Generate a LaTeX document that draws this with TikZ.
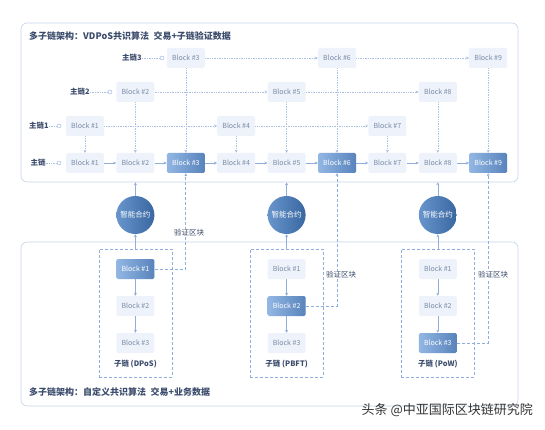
\documentclass[tikz,border=0pt]{standalone}
\usepackage{fontspec}
\setmainfont{Noto Sans CJK SC}
\usetikzlibrary{arrows.meta}

\definecolor{framecol}{HTML}{C3D2EC}
\definecolor{linecol}{HTML}{8FAEDB}
\definecolor{blockfill}{HTML}{EEF3FB}
\definecolor{blocktext}{HTML}{7A8AA6}
\definecolor{hilight}{HTML}{93B7E4}
\definecolor{hidark}{HTML}{5883BB}
\definecolor{ballight}{HTML}{6795CC}
\definecolor{baldark}{HTML}{3A67A0}
\definecolor{titlecol}{HTML}{3C4C6C}

\tikzset{
    frame/.style={draw=framecol, line width=0.6pt, rounded corners=6pt, inner sep=0pt},
    block/.style={fill=blockfill, text=blocktext, minimum width=38pt, minimum height=20pt,
                  inner sep=0pt, rounded corners=1.5pt},
    hiblock/.style={block, left color=hilight, right color=hidark, text=white},
    contract/.style={circle, minimum size=38pt, inner sep=0pt, left color=ballight,
                     right color=baldark, text=white, font=\fontsize{7.5}{8}\selectfont},
    subbox/.style={draw=linecol, line width=0.7pt, dash pattern=on 3pt off 2pt,
                   minimum width=73pt, minimum height=128pt, inner sep=0pt},
    title/.style={text=titlecol, font=\fontsize{9}{10}\selectfont\bfseries, inner sep=0pt},
    rowlabel/.style={text=titlecol, font=\fontsize{7.5}{8}\selectfont\bfseries, inner sep=0pt},
    caption/.style={text=titlecol, font=\fontsize{7.5}{8}\selectfont\bfseries, inner sep=0pt},
    dot/.style={circle, draw=linecol, fill=white, minimum size=4pt, inner sep=0pt},
    chain/.style={draw=linecol, line width=0.5pt},
    dotchain/.style={draw=linecol!75, line width=0.45pt, dash pattern=on 0.8pt off 0.9pt},
    verify/.style={draw=linecol, line width=0.7pt, dash pattern=on 3pt off 2pt},
    tag/.style={fill=white, text=titlecol, font=\fontsize{7.5}{8}\selectfont, inner sep=1pt}
}

\begin{document}
\begin{tikzpicture}[x=1pt, y=-1pt, >={Stealth[length=3pt,width=3pt]},
                    font=\fontsize{7}{8}\selectfont]
    \useasboundingbox (0,0) rectangle (545,430);

    % Frames and titles
    \node[frame, minimum width=497pt, minimum height=159pt] (upper) at (269.5,102.5) {};
    \node[frame, minimum width=497pt, minimum height=164pt] (lower) at (269.5,324) {};
    \node[title, anchor=west] (uptitle) at (29,36) {多子链架构：VDPoS共识算法\enspace 交易+子链验证数据};
    \node[title, anchor=west] (lowtitle) at (29,392) {多子链架构：自定义共识算法\enspace 交易+业务数据};

    % Main chain
    \foreach \i/\st in {1/block,2/block,3/hiblock,4/block,5/block,6/hiblock,7/block,8/block,9/hiblock}
        \node[\st] (mb\i) at ({34.6+50.4*\i},163) {Block \#\i};
    \foreach \i [evaluate=\i as \j using int(\i+1)] in {1,...,8}
        \draw[chain,->] (mb\i) -- (mb\j);

    % Side chains 1 to 3
    \foreach \i/\y in {1/126,2/92,3/58,4/126,5/92,6/58,7/126,8/92,9/58}
        \node[block] (ub\i) at ({34.6+50.4*\i},\y) {Block \#\i};
    \foreach \i in {1,...,9}
        \draw[dotchain,->] (ub\i) -- (mb\i);
    \foreach \a/\b in {1/4,4/7,2/5,5/8,3/6,6/9}
        \draw[dotchain,->] (ub\a) -- (ub\b);

    % Row labels
    \foreach \k/\txt/\lx/\ox/\y in {0/主链/38/59/163, 1/主链1/39/59/126, 2/主链2/80/110/92, 3/主链3/132/162/58} {
        \node[rowlabel] (lab\k) at (\lx,\y) {\txt};
        \node[dot] (o\k) at (\ox,\y) {};
        \draw[dotchain] (lab\k) -- (o\k);
    }

    % Sub chains
    \foreach \n/\x/\h/\cap/\c in {d/135.4/1/DPoS/1, p/286.6/2/PBFT/2, w/437.8/3/PoW/3} {
        \node[subbox] (\n box) at (\x,313) {};
        \foreach \j/\y in {1/269,2/306,3/343} {
            \ifnum\j=\h \def\st{hiblock}\else \def\st{block}\fi
            \node[\st] (\n\j) at (\x,\y) {Block \#\j};
        }
        \draw[chain,->] (\n1) -- (\n2);
        \draw[chain,->] (\n2) -- (\n3);
        \node[caption] (\n cap) at (\x,364) {子链 (\cap)};
        \node[contract] (sc\c) at (\x,215) {智能合约};
        \draw[chain,->] (\n box.north) -- (sc\c);
        \draw[chain,->] (sc\c) -- (sc\c |- upper.south);
    }

    % Verified blocks
    \draw[verify,->] (d1.east) -| (mb3.south);
    \draw[verify,->] (p2.east) -| (mb6.south);
    \draw[verify,->] (w3.east) -| (mb9.south);
    \node[tag] (v1) at (189,233) {验证区块};
    \node[tag] (v2) at (341,275) {验证区块};
    \node[tag] (v3) at (493,275) {验证区块};

    % Watermark
    \node[anchor=east, text=black!80, font=\fontsize{13}{14}\selectfont, inner sep=0pt]
        (mark) at (533,410) {头条 @中亚国际区块链研究院};
\end{tikzpicture}
\end{document}
